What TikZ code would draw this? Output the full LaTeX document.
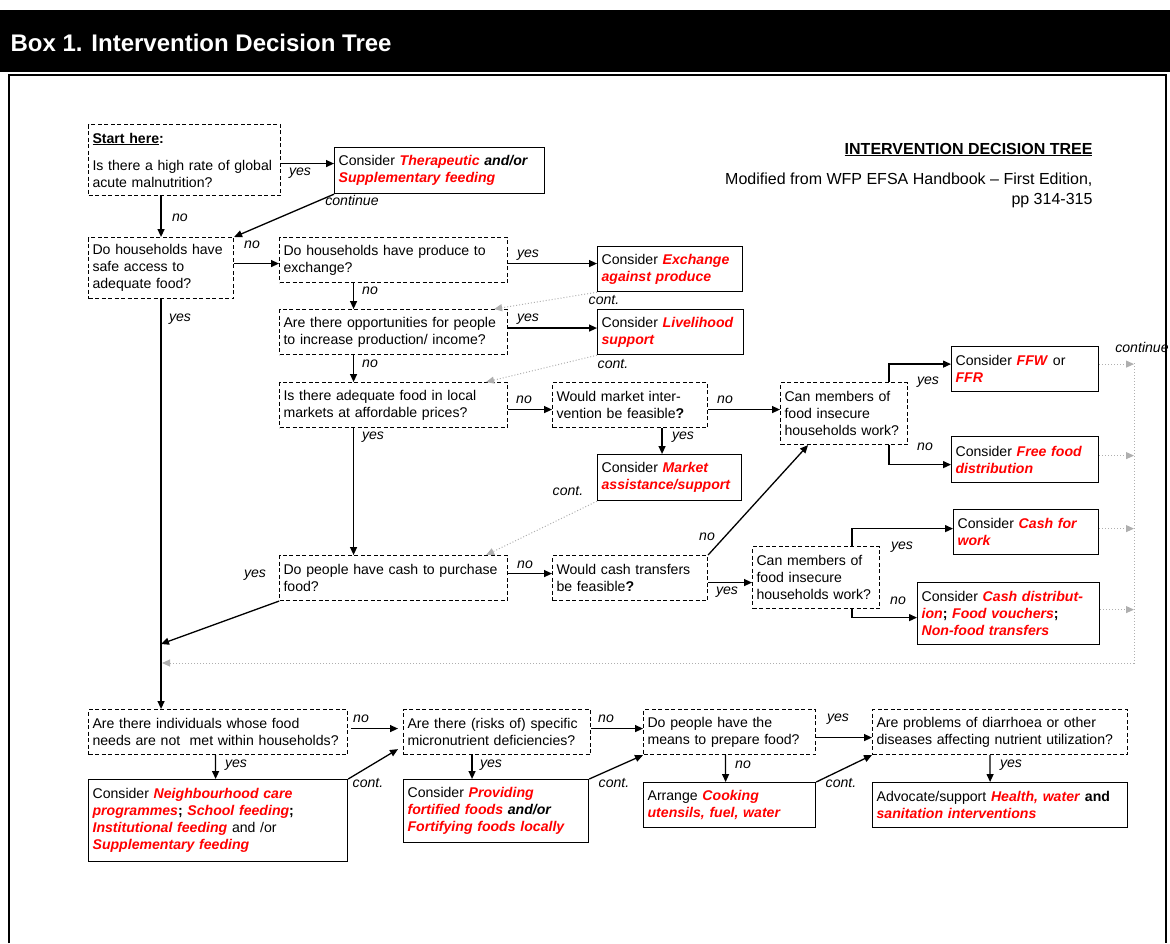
\documentclass[tikz,border=0pt]{standalone}
\usepackage{fontspec}
\setmainfont{Liberation Sans}
\usepackage{xcolor}
\usetikzlibrary{arrows.meta}
\definecolor{optred}{RGB}{255,0,0}
\definecolor{railgray}{RGB}{175,175,175}
\newcommand{\opt}[1]{\textcolor{optred}{\textbf{\textit{#1}}}}
\newcommand{\bi}[1]{\textbf{\textit{#1}}}
\newcommand{\treefont}{\fontsize{14.1}{17}\selectfont}

\begin{document}
\begin{tikzpicture}[x=1pt,y=-1pt,font=\treefont,
  ask/.style={draw,dash pattern=on 4pt off 2.5pt,line width=1.1pt,anchor=north west,align=left,inner xsep=4pt,inner ysep=2pt},
  act/.style={draw,line width=1.2pt,anchor=north west,align=left,inner xsep=4pt,inner ysep=2pt},
  ans/.style={font=\treefont\itshape,inner sep=0pt},
  go/.style={line width=1.3pt,-{Triangle[length=8pt,width=7pt]}},
  back/.style={railgray,line width=1pt,dotted,-{Triangle[length=8pt,width=7pt]}}]
\useasboundingbox (0,0) rectangle (1170,943);
\fill (0,10) rectangle (1170,72);
\node[anchor=base west,text=white,font=\fontsize{24}{28}\selectfont\bfseries] (title) at (7,51) {Box 1. Intervention Decision Tree};
\draw[line width=2pt] (9,943) -- (9,75) -- (1166,75) -- (1166,943);
\node[anchor=base east,font=\fontsize{16}{19}\selectfont\bfseries] (head) at (1096,154) {\underline{INTERVENTION DECISION TREE}};
\node[anchor=base east,font=\fontsize{16}{19}\selectfont] (src) at (1096,184) {Modified from WFP EFSA Handbook – First Edition,};
\node[anchor=base east,font=\fontsize{16}{19}\selectfont] (pages) at (1096,204) {pp 314-315};

\node[ask,text width=184pt,minimum height=71pt] (start) at (88,124)
  {\underline{\textbf{Start here}}\textbf{:}\\[10pt]Is there a high rate of global\\acute malnutrition?};
\node[act,text width=202pt,minimum height=46pt] (therapy) at (334,147)
  {Consider \opt{Therapeutic} \bi{and/or}\\\opt{Supplementary feeding}};
\node[ask,text width=137pt,minimum height=61pt] (access) at (88,237)
  {Do households have\\safe access to\\adequate food?};
\node[ask,text width=220pt,minimum height=45pt] (produce) at (279,237)
  {Do households have produce to\\exchange?};
\node[act,text width=137pt,minimum height=45pt] (exchange) at (597,246)
  {Consider \opt{Exchange}\\\opt{against produce}};
\node[ask,text width=220pt,minimum height=45pt] (opport) at (279,309)
  {Are there opportunities for people\\to increase production/ income?};
\node[act,text width=138pt,minimum height=45pt] (livelihood) at (597,309)
  {Consider \opt{Livelihood}\\\opt{support}};
\node[ask,text width=220pt,minimum height=45pt] (markets) at (279,382)
  {Is there adequate food in local\\markets at affordable prices?};
\node[ask,text width=147pt,minimum height=45pt] (mktint) at (552,382)
  {Would market inter-\\vention be feasible\textbf{?}};
\node[ask,text width=119pt,minimum height=62pt] (canwork) at (780,382)
  {Can members of\\food insecure\\households work?};
\node[act,text width=139pt,minimum height=45pt] (ffw) at (951,346)
  {Consider \opt{FFW} or\\\opt{FFR}};
\node[act,text width=139pt,minimum height=46pt] (freefood) at (951,436)
  {Consider \opt{Free food}\\\opt{distribution}};
\node[act,text width=136pt,minimum height=46pt] (mktassist) at (597,454)
  {Consider \opt{Market}\\\opt{assistance/support}};
\node[ask,text width=220pt,minimum height=45pt] (cash) at (279,555)
  {Do people have cash to purchase\\food?};
\node[ask,text width=147pt,minimum height=45pt] (cashtr) at (552,555)
  {Would cash transfers\\be feasible\textbf{?}};
\node[ask,text width=119pt,minimum height=62pt] (canwork2) at (752,546)
  {Can members of\\food insecure\\households work?};
\node[act,text width=137pt,minimum height=45pt] (cashwork) at (953,509)
  {Consider \opt{Cash for}\\\opt{work}};
\node[act,text width=174pt,minimum height=62pt] (cashdist) at (917,582)
  {Consider \opt{Cash distribut-}\\\opt{ion}\textbf{;} \opt{Food vouchers}\textbf{;}\\\opt{Non-food transfers}};
\node[ask,text width=251pt,minimum height=45pt] (indiv) at (88,709)
  {Are there individuals whose food\\needs are not\ \ met within households?};
\node[act,text width=251pt,minimum height=82pt] (neighb) at (88,779)
  {Consider \opt{Neighbourhood care}\\\opt{programmes}\textbf{;} \opt{School feeding}\textbf{;}\\\opt{Institutional feeding} and /or\\\opt{Supplementary feeding}};
\node[ask,text width=179pt,minimum height=45pt] (micro) at (403,709)
  {Are there (risks of) specific\\micronutrient deficiencies?};
\node[act,text width=177pt,minimum height=63pt] (providing) at (403,779)
  {Consider \opt{Providing}\\\opt{fortified foods} \bi{and/or}\\\opt{Fortifying foods locally}};
\node[ask,text width=164pt,minimum height=45pt] (prepare) at (643,709)
  {Do people have the\\means to prepare food?};
\node[act,text width=164pt,minimum height=45pt] (cooking) at (643,782)
  {Arrange \opt{Cooking}\\\opt{utensils, fuel, water}};
\node[ask,text width=247pt,minimum height=45pt] (diarr) at (872,709)
  {Are problems of diarrhoea or other\\diseases affecting nutrient utilization?};
\node[act,text width=247pt,minimum height=45pt] (health) at (872,782)
  {Advocate/support \opt{Health, water} \textbf{and}\\\opt{sanitation interventions}};

\coordinate (cashjoin) at (161,644);
\coordinate (railtop) at (1134,363);
\coordinate (railbot) at (1134,663);
\coordinate (railend) at (162,663);

\node[ans] (l1) at (300,173) {yes};
\node[ans] (l2) at (352,200) {continue};
\node[ans] (l3) at (180,218) {no};
\node[ans] (l4) at (252,245) {no};
\node[ans] (l5) at (528,255) {yes};
\node[ans] (l6) at (370,291) {no};
\node[ans] (l7) at (604,300) {cont.};
\node[ans] (l8) at (528,319) {yes};
\node[ans] (l9) at (180,319) {yes};
\node[ans] (l10) at (613,364) {cont.};
\node[ans] (l11) at (370,364) {no};
\node[ans] (l12) at (524,400) {no};
\node[ans] (l13) at (725,400) {no};
\node[ans] (l14) at (373,437) {yes};
\node[ans] (l15) at (683,437) {yes};
\node[ans] (l16) at (568,491) {cont.};
\node[ans] (l17) at (928,382) {yes};
\node[ans] (l18) at (925,447) {no};
\node[ans] (l19) at (1142,347) {continue};
\node[ans] (l20) at (255,575) {yes};
\node[ans] (l21) at (525,565) {no};
\node[ans] (l22) at (707,537) {no};
\node[ans] (l23) at (727,592) {yes};
\node[ans] (l24) at (902,547) {yes};
\node[ans] (l25) at (898,601) {no};
\node[ans] (l26) at (361,719) {no};
\node[ans] (l27) at (236,765) {yes};
\node[ans] (l28) at (368,783) {cont.};
\node[ans] (l29) at (606,719) {no};
\node[ans] (l30) at (491,765) {yes};
\node[ans] (l31) at (614,783) {cont.};
\node[ans] (l32) at (838,719) {yes};
\node[ans] (l33) at (743,765) {no};
\node[ans] (l34) at (841,783) {cont.};
\node[ans] (l35) at (1011,765) {yes};

\draw[go] ([yshift=-3.5pt]start.east) -- ([yshift=-3.5pt]start.east -| therapy.west);
\draw[go] (access.north |- start.south) -- (access.north);
\draw[go] (therapy.south west) -- (access.north east);
\draw[go] ([yshift=-3.5pt]produce.west -| access.east) -- ([yshift=-3.5pt]produce.west);
\draw[go] ([yshift=-3.5pt]produce.east) -- ([yshift=-3.5pt]produce.east -| exchange.west);
\draw[go] ([xshift=-40pt]produce.south) -- ([xshift=-40pt]opport.north);
\draw[go] ([yshift=4pt]opport.east) -- ([yshift=4pt]opport.east -| livelihood.west);
\draw[go] ([xshift=-40pt]opport.south) -- ([xshift=-40pt]markets.north);
\draw[go] ([yshift=-4.5pt]markets.east) -- ([yshift=-4.5pt]mktint.west);
\draw[go] ([yshift=-4.5pt]mktint.east) -- ([yshift=-4.5pt]mktint.east -| canwork.west);
\draw[go] ([xshift=32pt]mktint.south) -- ([xshift=32pt]mktint.south |- mktassist.north);
\draw[go] ([xshift=-40pt]markets.south) -- ([xshift=-40pt]cash.north);
\draw[go] ([yshift=4.5pt]cash.east) -- ([yshift=4.5pt]cashtr.west);
\draw[go] (cash.south west) -- (cashjoin);
\draw[go] ([yshift=-4.5pt]cashtr.east) -- ([yshift=-4.5pt]cashtr.east -| canwork2.west);
\draw[go] (cashtr.north east) -- ([xshift=-36pt]canwork.south);
\draw[go] ([xshift=45pt]canwork.north) |- ([yshift=5pt]ffw.west);
\draw[go] ([xshift=45pt]canwork.south) |- ([yshift=-5pt]freefood.west);
\draw[go] ([xshift=36pt]canwork2.north) |- ([yshift=3.5pt]cashwork.west);
\draw[go] ([xshift=36pt]canwork2.south) |- ([yshift=-4pt]cashdist.west);
\draw[go] (access.south) -- (access.south |- indiv.north);
\draw[go,shorten <=3pt,shorten >=5pt] ([yshift=3.5pt]indiv.east) -- ([yshift=3.5pt]micro.west);
\draw[go] ([yshift=3.5pt]micro.east) -- ([yshift=3.5pt]prepare.west);
\draw[go] ([yshift=-5.5pt]prepare.east) -- ([yshift=-5.5pt]diarr.west);
\draw[go] ([xshift=-2.5pt]indiv.south) -- ([xshift=-2.5pt]neighb.north);
\draw[go] ([xshift=-25pt]micro.south) -- ([xshift=-25pt]micro.south |- providing.north);
\draw[go] ([xshift=-4pt]prepare.south) -- ([xshift=-4pt]cooking.north);
\draw[go] ([xshift=-10pt]diarr.south) -- ([xshift=-10pt]health.north);
\draw[go] (neighb.north east) -- ([xshift=-5pt,yshift=6pt]micro.south west);
\draw[go] (providing.north east) -- (prepare.south west);
\draw[go] (cooking.north east) -- (diarr.south west);

\draw[back] (exchange.south west) -- ([xshift=-14pt]opport.north east);
\draw[back] (livelihood.south west) -- ([xshift=-22pt]markets.north east);
\draw[back] (mktassist.south west) -- ([xshift=-22pt]cash.north east);
\draw[back] ([yshift=5pt]ffw.east) -- ([yshift=5pt]ffw.east -| railtop);
\draw[back] ([yshift=4pt]freefood.east) -- ([yshift=4pt]freefood.east -| railtop);
\draw[back] ([yshift=3.5pt]cashwork.east) -- ([yshift=3.5pt]cashwork.east -| railtop);
\draw[back] ([yshift=4pt]cashdist.east) -- ([yshift=4pt]cashdist.east -| railtop);
\draw[back] (railtop) -- (railbot) -- (railend);
\end{tikzpicture}
\end{document}
